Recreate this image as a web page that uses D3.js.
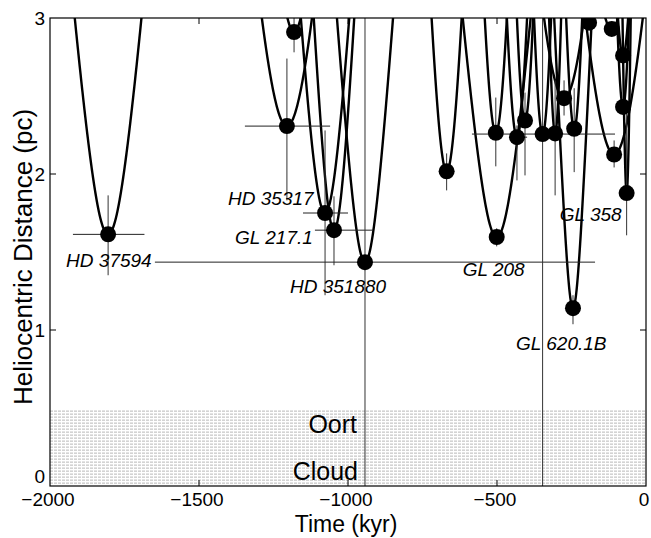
<!DOCTYPE html>
<html><head><meta charset="utf-8">
<script src="https://cdn.jsdelivr.net/npm/d3@7"></script>
<style>body{margin:0;background:#fff}svg{display:block}</style>
</head><body><svg id="c" width="651" height="538"></svg>
<script>
// ---- data ----
const tMin  = [-1805,-1205,-1181,-1077,-1047,-943,-669,-501,-504,-433,-406,-347,-305,-275,-241,-245,-191,-115,-107,-77,-77,-65];
const dMin  = [1.613,2.307,2.91,1.75,1.64,1.435,2.017,1.596,2.264,2.236,2.343,2.256,2.26,2.486,2.29,1.14,2.97,2.93,2.125,2.43,2.76,1.878];
const speed = [0.0226,0.0228,0.033,0.030,0.037,0.028,0.044,0.0223,0.053,0.059,0.069,0.069,0.098,0.025,0.072,0.044,0.03,0.03,0.022,0.088,0.069,0.17];
const tLo = [-1923,-1346,null,-1151,-1111,-1648,null,null,null,-456,null,-584,null,null,null,null,null,null,null,null,null,null];
const tHi = [-1683,-1060,null,-1000,-916,-171,null,null,null,-399,null,-104,null,null,null,null,null,null,null,null,null,null];
const dLo = [1.351,1.831,2.78,1.223,1.415,0,1.895,1.536,2.049,1.959,1.991,0,1.863,2.375,2.012,1.037,null,null,2.042,null,null,1.607];
const dHi = [1.863,2.74,3.0,2.279,1.857,3,2.132,1.652,2.49,2.311,2.522,3,2.6,2.6,2.55,1.223,null,null,2.215,null,null,2.44];
const labelNames = ["HD 37594","HD 35317","GL 217.1","HD 351880","GL 208","GL 620.1B","GL 358"];
const labelStar  = [0,3,4,5,7,15,21];
const xTicks = [-2000,-1500,-1000,-500,0];
const yTicks = [0,1,2,3];
const oortEdge = 0.48;

// ---- layout ----
const svg = d3.select("#c");
const L=50,R=646,T=18,B=486;
const x = d3.scaleLinear().domain([-2000,0]).range([L,R]);
const y = d3.scaleLinear().domain([0,3]).range([B,T]);
const font = "'Liberation Sans', Arial, Helvetica, sans-serif";

svg.append("defs").append("clipPath").attr("id","clip")
  .append("rect").attr("x",L).attr("y",T).attr("width",R-L).attr("height",B-T);

// Oort cloud shading
const shade = svg.append("g");
d3.range(y(oortEdge), B, 3).forEach(py=>{
  shade.append("line").attr("x1",L).attr("x2",R).attr("y1",py).attr("y2",py)
    .attr("stroke","#9a9a9a").attr("stroke-width",0.7).attr("stroke-dasharray","3,1");
});
svg.append("text").attr("x",357).attr("y",433).attr("text-anchor","end")
  .attr("font-family",font).attr("font-size",25).text("Oort");
svg.append("text").attr("x",358).attr("y",480).attr("text-anchor","end")
  .attr("font-family",font).attr("font-size",25).text("Cloud");

const plot = svg.append("g").attr("clip-path","url(#clip)");

// trajectories
const line = d3.line().x(d=>x(d[0])).y(d=>y(d[1]));
tMin.forEach((tm,i)=>{
  const pts = d3.range(-2000,0.01,1).map(t=>[t, Math.sqrt(dMin[i]*dMin[i] + Math.pow(speed[i]*(t-tm),2))])
    .filter(p=>p[1]<3.3);
  plot.append("path").attr("d",line(pts)).attr("fill","none")
    .attr("stroke","#000").attr("stroke-width",2.4);
});

// error bars
tMin.forEach((tm,i)=>{
  if(tLo[i]!==null) plot.append("line").attr("x1",x(tLo[i])).attr("x2",x(tHi[i]))
    .attr("y1",y(dMin[i])).attr("y2",y(dMin[i])).attr("stroke","#222").attr("stroke-width",1);
  if(dLo[i]!==null) plot.append("line").attr("x1",x(tm)).attr("x2",x(tm))
    .attr("y1",y(dLo[i])).attr("y2",y(dHi[i])).attr("stroke","#333").attr("stroke-width",1);
});

// closest-approach points
plot.selectAll("circle.pt").data(tMin.map((t,i)=>[t,dMin[i]])).enter().append("circle")
  .attr("cx",d=>x(d[0])).attr("cy",d=>y(d[1])).attr("r",8).attr("fill","#000");

// star labels
const labelOffset = [[-42,33],[-97,-8],[-99,14],[-75,31],[-34,39],[-57,42],[-67,28]];
labelNames.forEach((n,j)=>{
  const s = labelStar[j];
  svg.append("text").attr("x",x(tMin[s])+labelOffset[j][0]).attr("y",y(dMin[s])+labelOffset[j][1])
    .attr("font-family",font).attr("font-size",19).attr("font-style","italic").text(n);
});

// frame
svg.append("rect").attr("x",L).attr("y",T).attr("width",R-L).attr("height",B-T)
  .attr("fill","none").attr("stroke","#000").attr("stroke-width",1.2);

// ticks (inside, on all four sides)
const tk=6;
xTicks.slice(1,-1).forEach(v=>{
  svg.append("line").attr("x1",x(v)).attr("x2",x(v)).attr("y1",B).attr("y2",B-tk).attr("stroke","#000");
  svg.append("line").attr("x1",x(v)).attr("x2",x(v)).attr("y1",T).attr("y2",T+tk).attr("stroke","#000");
});
yTicks.slice(1,-1).forEach(v=>{
  svg.append("line").attr("x1",L).attr("x2",L+tk).attr("y1",y(v)).attr("y2",y(v)).attr("stroke","#000");
  svg.append("line").attr("x1",R).attr("x2",R-tk).attr("y1",y(v)).attr("y2",y(v)).attr("stroke","#000");
});
const fmt = v => (v<0 ? "\u2212"+Math.abs(v) : String(v));
xTicks.forEach(v=>{
  svg.append("text").attr("x",x(v)-2).attr("y",506).attr("text-anchor","middle")
    .attr("font-family",font).attr("font-size",19).text(fmt(v));
});
yTicks.forEach(v=>{
  svg.append("text").attr("x",45).attr("y",y(v)+(v===0?-3:7)).attr("text-anchor","end")
    .attr("font-family",font).attr("font-size",19).text(v);
});

// axis titles
svg.append("text").attr("x",346).attr("y",532).attr("text-anchor","middle")
  .attr("font-family",font).attr("font-size",23).text("Time (kyr)");
svg.append("text").attr("transform","translate(32,257) rotate(-90)").attr("text-anchor","middle")
  .attr("font-family",font).attr("font-size",26).text("Heliocentric Distance (pc)");
</script></body></html>
